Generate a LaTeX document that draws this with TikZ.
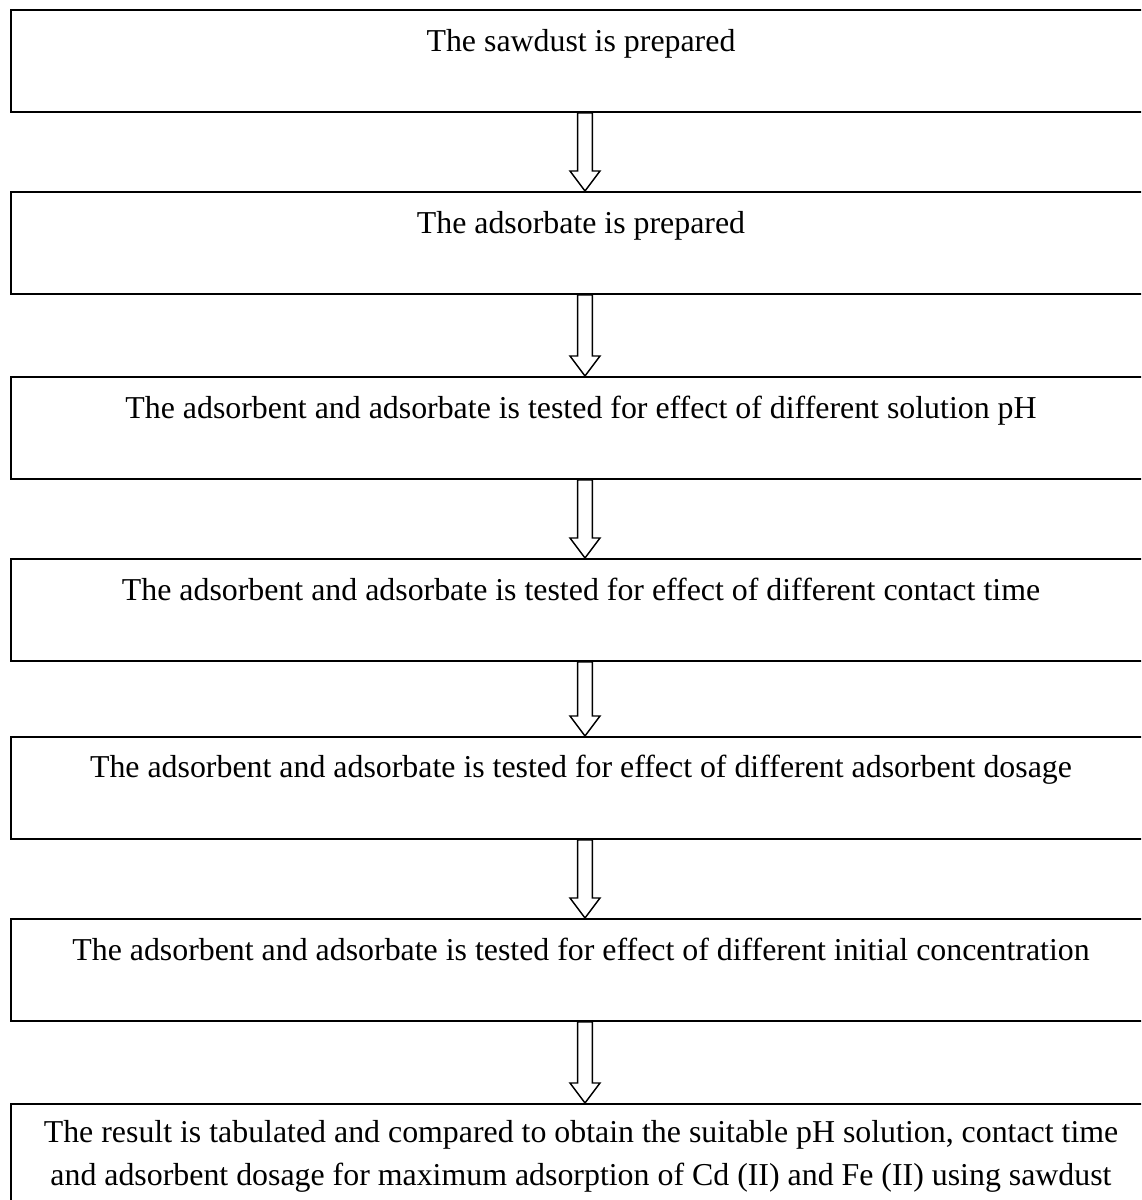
\documentclass[tikz,border=0pt]{standalone}
\usepackage{fontspec}
\setmainfont{Liberation Serif}
\usetikzlibrary{calc}
\newcommand\hollowdown[2]{%
  \draw[harrow] let \p1=(#1.south), \p2=(#2.north) in
    (\x1+1.125pt-2.75pt,\y1) -- (\x1+1.125pt-2.75pt,\y2+7.5pt)
    -- (\x1+1.125pt-5.625pt,\y2+7.5pt) -- (\x1+1.125pt,\y2)
    -- (\x1+1.125pt+5.625pt,\y2+7.5pt) -- (\x1+1.125pt+2.75pt,\y2+7.5pt)
    -- (\x1+1.125pt+2.75pt,\y1) -- cycle;}
\begin{document}
\begin{tikzpicture}[x=0.375pt,y=-0.375pt,
  stepbox/.style={draw, line width=0.75pt, minimum width=428.25pt, minimum height=38.25pt, inner sep=0pt, anchor=north west},
  steptext/.style={font=\fontsize{11.95}{15.9}\selectfont, inner sep=0pt, anchor=base, align=center},
  harrow/.style={draw, fill=white, line width=0.55pt, line join=miter}]
\clip (0,0) rectangle (1141,1200);
\fill[white] (0,0) rectangle (1141,1200);
\node[stepbox] (b1) at (10,9) {};
\node[stepbox] (b2) at (10,191) {};
\node[stepbox] (b3) at (10,376) {};
\node[stepbox] (b4) at (10,558) {};
\node[stepbox] (b5) at (10,736) {};
\node[stepbox] (b6) at (10,918) {};
\node[stepbox] (b7) at (10,1103) {};
\node[steptext] (t1) at (581,51) {The sawdust is prepared};
\node[steptext] (t2) at (581,233) {The adsorbate is prepared};
\node[steptext] (t3) at (581,418) {The adsorbent and adsorbate is tested for effect of different solution pH};
\node[steptext] (t4) at (581,600) {The adsorbent and adsorbate is tested for effect of different contact time};
\node[steptext] (t5) at (581,777) {The adsorbent and adsorbate is tested for effect of different adsorbent dosage};
\node[steptext] (t6) at (581,960) {The adsorbent and adsorbate is tested for effect of different initial concentration};
\node[steptext, anchor=north] (t7) at (581,1120) {The result is tabulated and compared to obtain the suitable pH solution, contact time\\and adsorbent dosage for maximum adsorption of Cd (II) and Fe (II) using sawdust};
\hollowdown{b1}{b2}
\hollowdown{b2}{b3}
\hollowdown{b3}{b4}
\hollowdown{b4}{b5}
\hollowdown{b5}{b6}
\hollowdown{b6}{b7}
\end{tikzpicture}
\end{document}
